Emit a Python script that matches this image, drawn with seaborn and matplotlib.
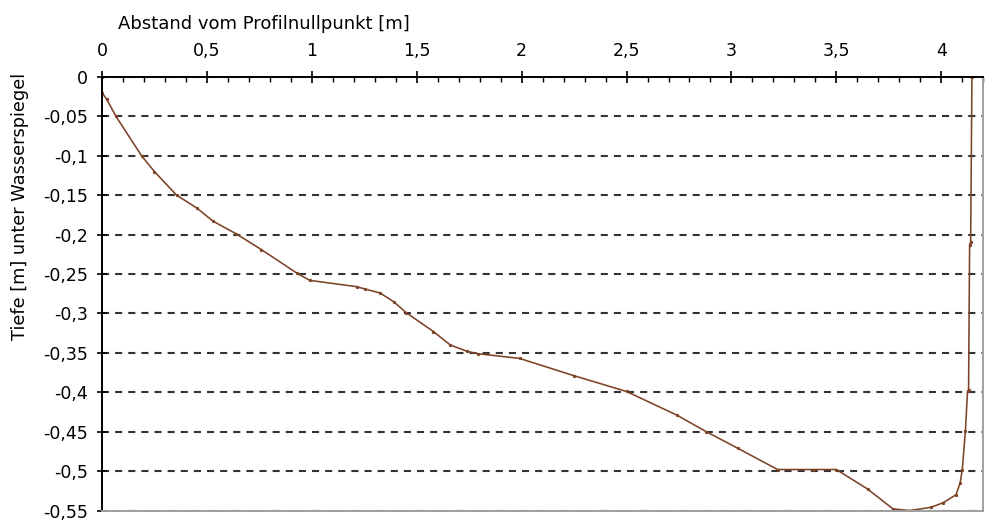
import numpy as np
import pandas as pd
import matplotlib
matplotlib.use("Agg")
import matplotlib.pyplot as plt
from matplotlib.ticker import MultipleLocator, FuncFormatter
import seaborn as sns

# ── Data read from the profile ─────────────────────────────
abstand = [0, 0, 0.022, 0.067, 0.189, 0.25, 0.356, 0.451, 0.53, 0.64, 0.76,
           0.93, 0.99, 1.214, 1.254, 1.325, 1.39, 1.45, 1.58, 1.66, 1.74,
           1.79, 1.99, 2.25, 2.50, 2.74, 2.88, 3.03, 3.22, 3.39, 3.50, 3.65,
           3.77, 3.85, 3.95, 4.01, 4.07, 4.09, 4.10, 4.115, 4.125, 4.13,
           4.135, 4.14, 4.146]
tiefe = [0, -0.02, -0.028, -0.05, -0.10, -0.12, -0.15, -0.166, -0.183, -0.199,
         -0.219, -0.249, -0.258, -0.266, -0.269, -0.274, -0.285, -0.299,
         -0.323, -0.34, -0.348, -0.351, -0.357, -0.379, -0.399, -0.429,
         -0.45, -0.471, -0.498, -0.498, -0.498, -0.523, -0.548, -0.55,
         -0.546, -0.54, -0.53, -0.515, -0.498, -0.449, -0.399, -0.397,
         -0.213, -0.209, 0]

x_label = "Abstand vom Profilnullpunkt [m]"
y_label = "Tiefe [m] unter Wasserspiegel"

df = pd.DataFrame({"abstand": abstand, "tiefe": tiefe})

# ── Style ──────────────────────────────────────────────────
sns.set_style("white")
plt.rcParams["font.family"] = ["DejaVu Sans"]
plt.rcParams["text.color"] = "black"
plt.rcParams["xtick.color"] = "black"
plt.rcParams["ytick.color"] = "black"

fig = plt.figure(figsize=(9.88, 5.25), dpi=100)
ax = fig.add_axes([0.1032, 0.0276, 0.892, 0.8257])

line_color = "#7c4326"
sns.lineplot(data=df, x="abstand", y="tiefe", sort=False, estimator=None,
             color=line_color, linewidth=1.15, marker="o", markersize=1.6,
             markeredgecolor=line_color, ax=ax)

ax.set_xlim(0, 4.2)
ax.set_ylim(-0.55, 0)

# axis on top
ax.xaxis.tick_top()
ax.xaxis.set_label_position("top")
ax.xaxis.set_major_locator(MultipleLocator(0.5))
ax.xaxis.set_minor_locator(MultipleLocator(0.1))
ax.yaxis.set_major_locator(MultipleLocator(0.05))

fmt = FuncFormatter(lambda v, p: ("%g" % round(v, 3)).replace(".", ","))
ax.xaxis.set_major_formatter(fmt)
ax.yaxis.set_major_formatter(fmt)

ax.tick_params(axis="x", which="major", direction="inout", length=9,
               width=1.2, pad=8, labelsize=12.5, color="black",
               labelcolor="black")
ax.tick_params(axis="x", which="minor", direction="in", length=3.5,
               width=1.0, color="black", top=True, bottom=False)
ax.tick_params(axis="y", which="major", direction="inout", length=7,
               width=1.2, pad=6.5, labelsize=12.5, color="black", left=True,
               labelcolor="black")

# horizontal dashed gridlines
ax.yaxis.grid(True, color="#333333", linewidth=1.5, linestyle=(0, (3.4, 2.9)))
ax.xaxis.grid(False)
ax.set_axisbelow(True)

for side in ["top", "left"]:
    ax.spines[side].set_color("black")
    ax.spines[side].set_linewidth(1.4)
for side in ["bottom", "right"]:
    ax.spines[side].set_color("#a0a0a0")
    ax.spines[side].set_linewidth(1.4)

ax.set_xlabel("")
ax.set_ylabel("")
fig.text(263.5 / 988, 1 - 24 / 525, x_label, ha="center", va="center",
         fontsize=13, color="black")
fig.text(20 / 988, 1 - 206 / 525, y_label, ha="center", va="center",
         rotation=90, fontsize=12.8, color="black")

plt.savefig("out.png", dpi=100)
plt.close()
